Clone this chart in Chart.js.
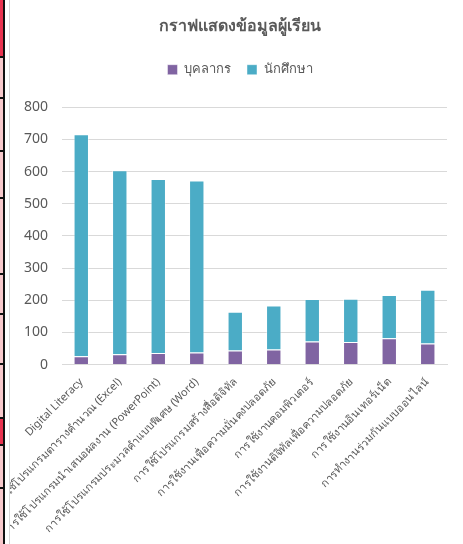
<!DOCTYPE html>
<html>
<head>
<meta charset="utf-8">
<script src="https://cdn.jsdelivr.net/npm/chart.js@4.4.1/dist/chart.umd.min.js"></script>
<style>
  html, body { margin: 0; padding: 0; background: #fff; }
  body { width: 463px; height: 544px; position: relative; overflow: hidden; }
  /* sheet edge seen at the left of the screenshot */
  #edge { position: absolute; left: 0; top: 0; width: 3px; height: 544px; background: #f8c9cc; border-right: 2px solid #111; }
  #edge .red { position: absolute; left: 0; width: 3px; background: #e8334f; }
  #edge .cut { position: absolute; left: 0; width: 3px; height: 2px; background: #111; }
  #rule { position: absolute; left: 9px; top: 0; width: 1px; height: 544px; background: #d6d6d6; }
  #wrap { position: absolute; left: 10px; top: 0; width: 460px; height: 544px; }
</style>
</head>
<body>
<div id="edge">
  <div class="red" style="top:0;height:56px"></div>
  <div class="red" style="top:417px;height:27px"></div>
  <div class="cut" style="top:56px"></div>
  <div class="cut" style="top:97px"></div>
  <div class="cut" style="top:150px"></div>
  <div class="cut" style="top:197px"></div>
  <div class="cut" style="top:273px"></div>
  <div class="cut" style="top:313px"></div>
  <div class="cut" style="top:363px"></div>
  <div class="cut" style="top:417px"></div>
  <div class="cut" style="top:444px"></div>
  <div class="cut" style="top:487px"></div>
</div>
<div id="rule"></div>
<div id="wrap"><canvas id="studentChart"></canvas></div>
<script>
// skill categories (x axis)
const skills = [
    'Digital Literacy',
    'การใช้โปรแกรมตารางคำนวณ (Excel)',
    'การใช้โปรแกรมนำเสนอผลงาน (PowerPoint)',
    'การใช้โปรแกรมประมวลคำแบบพิเศษ (Word)',
    'การใช้โปรแกรมสร้างสื่อดิจิทัล',
    'การใช้งานเพื่อความมั่นคงปลอดภัย',
    'การใช้งานคอมพิวเตอร์',
    'การใช้งานดิจิทัลเพื่อความปลอดภัย',
    'การใช้งานอินเทอร์เน็ต',
    'การทำงานร่วมกันแบบออนไลน์'
];

// staff counts (bottom of each stack)
const staff = [26, 32, 36, 38, 44, 47, 72, 70, 82, 66];

// student counts (top of each stack)
const students = [690, 572, 541, 534, 120, 137, 132, 135, 134, 167];

const textColor = '#595959';
const fontFamily = "'Noto Sans', 'Leelawadee UI', Tahoma, sans-serif";

// push the plot area down a bit below the legend
const legendGap = {
    id: 'legendGap',
    beforeInit(chart) {
        const fit = chart.legend.fit;
        chart.legend.fit = function () {
            fit.bind(chart.legend)();
            this.height += 21;
        };
    }
};

const ctx = document.getElementById('studentChart').getContext('2d');
const studentChart = new Chart(ctx, {
    type: 'bar',
    data: {
        labels: skills,
        datasets: [
            {
                label: 'บุคลากร',
                data: staff,
                backgroundColor: '#8064a2',
                borderColor: 'rgba(255,255,255,0.45)',
                borderWidth: 1
            },
            {
                label: 'นักศึกษา',
                data: students,
                backgroundColor: '#4bacc6',
                borderColor: 'rgba(255,255,255,0.45)',
                borderWidth: 1
            }
        ]
    },
    plugins: [legendGap],
    options: {
        responsive: true,
        maintainAspectRatio: false,
        animation: false,
        layout: { padding: { top: 8, right: 0, left: 0, bottom: 2 } },
        datasets: {
            bar: { categoryPercentage: 1.0, barPercentage: 0.4 }
        },
        plugins: {
            title: {
                display: true,
                text: 'กราฟแสดงข้อมูลผู้เรียน',
                color: textColor,
                font: { family: fontFamily, size: 16, weight: 'bold' },
                padding: { top: 9, bottom: 11 }
            },
            legend: {
                position: 'top',
                labels: {
                    color: textColor,
                    font: { family: fontFamily, size: 13 },
                    boxWidth: 10,
                    boxHeight: 10,
                    padding: 16
                }
            },
            tooltip: { enabled: false }
        },
        scales: {
            x: {
                stacked: true,
                grid: { display: false },
                border: { display: true, color: '#d9d9d9' },
                ticks: {
                    color: textColor,
                    font: { family: fontFamily, size: 11 },
                    maxRotation: 45,
                    minRotation: 45,
                    autoSkip: false
                }
            },
            y: {
                stacked: true,
                min: 0,
                max: 800,
                grid: { color: '#d9d9d9', lineWidth: 1, drawTicks: false },
                border: { display: false },
                ticks: {
                    stepSize: 100,
                    color: textColor,
                    font: { family: fontFamily, size: 14 },
                    padding: 14
                }
            },
            // empty right-hand axis, only keeps the plot clear of the right edge
            yRight: {
                position: 'right',
                min: 0,
                max: 800,
                grid: { display: false },
                border: { display: false },
                ticks: { display: false },
                afterFit(scale) { scale.width = 23; }
            }
        }
    }
});
</script>
</body>
</html>
